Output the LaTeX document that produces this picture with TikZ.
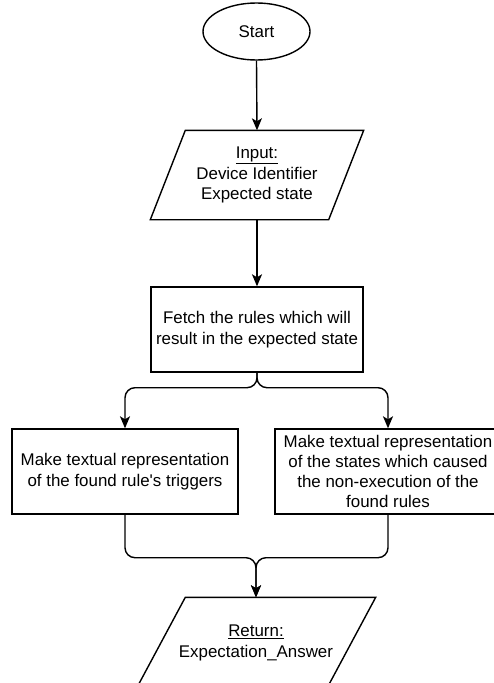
\documentclass[tikz,border=0pt]{standalone}
\usepackage{fontspec}
\setmainfont{Liberation Sans}
\usetikzlibrary{arrows.meta,shapes.geometric}
\begin{document}
\begin{tikzpicture}[x=1pt,y=-1pt,line width=1.4pt,
  every node/.style={font=\fontsize{16.9pt}{20.3pt}\selectfont,align=center,inner sep=0pt},
  procbox/.style={draw,minimum width=226pt,minimum height=85pt},
  arr/.style={-{Stealth[length=12pt,width=10pt,inset=3pt]},rounded corners=10pt}]
\useasboundingbox (0,0) rectangle (494,683);
\node[draw,ellipse,minimum width=107pt,minimum height=57pt] (start) at (256.5,31.5) {Start};
\node[minimum width=212pt,minimum height=88pt] (input) at (257,175) {\underline{Input:}\\Device Identifier\\Expected state};
\draw ([xshift=35pt]input.north west) -- (input.north east) -- ([xshift=-35pt]input.south east) -- (input.south west) -- cycle;
\node[draw,minimum width=212pt,minimum height=85pt] (fetch) at (257,329.5) {Fetch the rules which will\\result in the expected state};
\node[procbox] (left) at (125,471.5) {Make textual representation\\of the found rule\textquotesingle s triggers};
\node[procbox] (right) at (388,471.5) {Make textual representation\\of the states which caused\\the non-execution of the\\found rules};
\node[minimum width=238pt,minimum height=90pt] (ret) at (256,643) {\underline{Return:}\\Expectation\_Answer};
\draw ([xshift=49pt]ret.north west) -- (ret.north east) -- ([xshift=-49pt]ret.south east) -- (ret.south west) -- cycle;
\draw[arr] (start.south) -- (input.north);
\draw[arr] (input.south) -- (fetch.north);
\draw[arr] (fetch.south) -- ++(0,15) -| (left.north);
\draw[arr] (fetch.south) -- ++(0,15) -| (right.north);
\draw[arr] (left.south) -- ++(0,43) -| (ret.north);
\draw[arr] (right.south) -- ++(0,43) -| (ret.north);
\end{tikzpicture}
\end{document}
